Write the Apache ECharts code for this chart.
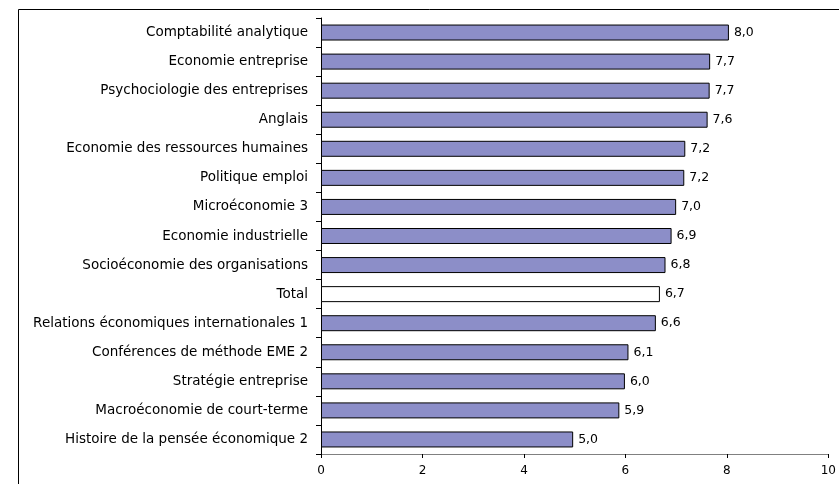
<!DOCTYPE html>
<html>
<head>
<meta charset="utf-8">
<script src="https://cdn.jsdelivr.net/npm/echarts@6/dist/echarts.min.js"></script>
<style>
html,body{margin:0;padding:0;background:#fff;}
#chart{width:839px;height:484px;}
</style>
</head>
<body>
<div id="chart"></div>
<script>
const categories = [
  "Comptabilité analytique",
  "Economie entreprise",
  "Psychociologie des entreprises",
  "Anglais",
  "Economie des ressources humaines",
  "Politique emploi",
  "Microéconomie 3",
  "Economie industrielle",
  "Socioéconomie des organisations",
  "Total",
  "Relations économiques internationales 1",
  "Conférences de méthode EME 2",
  "Stratégie entreprise",
  "Macroéconomie de court-terme",
  "Histoire de la pensée économique 2"
];
const values = [8.04, 7.67, 7.66, 7.62, 7.18, 7.16, 7.00, 6.91, 6.79, 6.68, 6.60, 6.06, 5.99, 5.88, 4.97];
const labels = ["8,0","7,7","7,7","7,6","7,2","7,2","7,0","6,9","6,8","6,7","6,6","6,1","6,0","5,9","5,0"];
const xTicks = [0, 2, 4, 6, 8, 10];

const chart = echarts.init(document.getElementById('chart'), null, {renderer: 'canvas'});
const font = 'DejaVu Sans, Verdana, sans-serif';
chart.setOption({
  animation: false,
  backgroundColor: '#ffffff',
  graphic: [{
    type: 'rect',
    shape: {x: 18.5, y: 9.5, width: 900, height: 600},
    style: {fill: 'none', stroke: '#000', lineWidth: 1},
    silent: true
  }],
  grid: {left: 321, top: 18, width: 511, height: 436, containLabel: false},
  xAxis: {
    type: 'value',
    min: xTicks[0],
    max: xTicks[xTicks.length - 1],
    interval: 2,
    axisLine: {show: true, lineStyle: {color: '#808080', width: 1}},
    axisTick: {show: true, length: 4, lineStyle: {color: '#000'}},
    splitLine: {show: false},
    axisLabel: {color: '#000', fontSize: 12, fontFamily: font, margin: 11}
  },
  yAxis: {
    type: 'category',
    inverse: true,
    data: categories,
    axisLine: {show: true, lineStyle: {color: '#000', width: 1}},
    axisTick: {show: true, length: 5, alignWithLabel: false, lineStyle: {color: '#000'}},
    axisLabel: {color: '#000', fontSize: 13.5, fontFamily: font, margin: 13}
  },
  series: [{
    type: 'bar',
    barCategoryGap: '45%',
    data: values.map((v, i) => ({
      value: v,
      itemStyle: {
        color: categories[i] === 'Total' ? '#ffffff' : '#8c8ec8',
        borderColor: '#000',
        borderWidth: 1
      }
    })),
    label: {
      show: true,
      position: 'right',
      distance: 5,
      color: '#000',
      fontSize: 12.5,
      fontFamily: font,
      formatter: p => labels[p.dataIndex]
    }
  }]
});
</script>
</body>
</html>
